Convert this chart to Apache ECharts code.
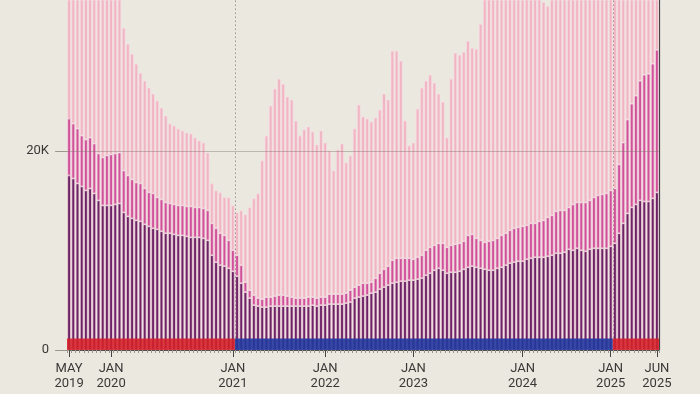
<!DOCTYPE html>
<html><head><meta charset="utf-8">
<script src="https://cdn.jsdelivr.net/npm/echarts@6/dist/echarts.min.js"></script>
<style>html,body{margin:0;padding:0;background:#ebe8e0}#c{width:700px;height:394px}</style>
</head><body><div id="c"></div>
<script>
// bottom segment (dark purple)
const bottomSeries = [17550,17250,16750,16450,16050,16250,15750,15050,14540,14540,
14540,14640,14740,13840,13440,13240,13040,12940,12640,12440,
12240,12140,11940,11740,11740,11630,11530,11530,11430,11330,
11330,11330,11230,11030,9530,8830,8530,8430,8220,7920,
7420,6720,5820,5220,4510,4410,4310,4310,4410,4410,
4410,4410,4410,4410,4410,4410,4410,4410,4510,4410,
4510,4510,4610,4610,4610,4610,4710,4810,5220,5320,
5420,5520,5720,5820,6120,6320,6520,6720,6820,6920,
6920,7020,7020,7120,7220,7520,7720,8020,8220,8020,
7720,7820,7820,7920,8120,8320,8430,8320,8220,8120,
8020,8020,8220,8320,8530,8730,8830,8930,8930,9130,
9230,9330,9330,9330,9430,9530,9730,9730,9830,10130,
10030,10230,10030,9930,10130,10230,10230,10230,10230,10430,
10730,11740,12740,13740,14340,14640,15050,14940,14940,15250,
15850];
// middle segment (magenta)
const middleSeries = [5720,5520,5520,5110,5110,5110,5010,4710,4820,5020,
5120,5120,5120,4210,4110,3910,3810,3810,3610,3410,
3510,3210,3210,3100,3000,3010,3010,3010,3010,3110,
3010,3010,3010,3010,3210,3410,3210,3100,2810,2110,
2110,1810,1000,800,1010,810,810,1010,910,1010,
1110,1110,1010,910,810,810,810,910,810,810,
810,810,1010,1010,1010,1010,1010,1210,1100,1200,
1300,1200,1100,1400,1600,1800,1910,2310,2410,2310,
2310,2210,2110,2210,2310,2510,2610,2510,2510,2710,
2610,2710,2810,2810,2810,3210,3200,2910,2810,2710,
2910,3010,3010,3210,3210,3310,3410,3410,3510,3410,
3510,3410,3610,3710,3910,4010,4210,4310,4210,4210,
4610,4610,4810,4910,4920,5120,5320,5420,5520,5620,
5520,6920,8120,9430,10430,10940,12030,12740,12840,13540,
14340];
// top segment (light pink)
const topSeries = [16730,17230,17730,17440,17840,17640,17740,18240,18640,17940,
17340,17240,16140,14350,13240,12640,11940,11130,10830,10530,
10030,9730,9220,8730,8030,7930,7730,7530,7430,7330,
7020,6720,6620,5820,4010,3810,4110,3820,4320,4510,
4310,5510,6820,8320,9730,10530,13940,16240,19250,20860,
21760,21260,20060,19860,17850,16340,16950,17150,16650,15440,
16750,15540,14440,12430,14540,15140,13140,13540,15950,18150,
16750,16550,16150,16150,16450,17660,16750,21060,20860,19860,
13840,11330,11730,14940,16850,17050,17350,16350,15050,14240,
11030,16750,19260,18960,19060,19560,18760,19060,21770,25170,
26070,26470,26770,26470,26260,25960,25760,25660,25060,24460,
23760,23260,22860,21960,21260,21960,22060,22460,22960,22660,
22360,22160,22160,22160,21950,21650,21450,21350,21750,21450,
21750,19340,17140,15830,14230,14420,12920,12320,12220,11210,
9810];
const tickIndex = [0, 10, 39, 61, 82, 108, 129, 140];
const tickLabels = ['MAY\n2019','JAN\n2020','JAN\n2021','JAN\n2022','JAN\n2023','JAN\n2024','JAN\n2025','JUN\n2025'];
const termBounds = [-0.5, 39.5, 129.5, 140.5];
const termParty = ['R', 'D', 'R'];
const yTicks = [0, 20000];

const N = bottomSeries.length;
const categories = bottomSeries.map((_, i) => String(i));
const partyColor = {R: 'rgba(214,32,40,0.88)', D: 'rgba(34,56,158,0.9)'};
const FONT = 'Roboto, "Liberation Sans", sans-serif';

const chart = echarts.init(document.getElementById('c'), null, {renderer: 'canvas'});
const barBase = {type: 'bar', stack: 'total', xAxisIndex: 0, yAxisIndex: 0,
  barCategoryGap: '16%', emphasis: {disabled: true}};
const areas = termParty.map((p, k) => [
  {xAxis: termBounds[k], yAxis: 0, itemStyle: {color: partyColor[p], opacity: 1}},
  {xAxis: termBounds[k + 1], yAxis: 1150}
]);
chart.setOption({
  animation: false,
  backgroundColor: '#ebe8e0',
  grid: {left: 67, right: 41, top: 0, bottom: 44},
  xAxis: [
    {type: 'category', data: categories, boundaryGap: true,
     axisLine: {show: true, lineStyle: {color: '#444', width: 1}},
     axisTick: {show: true, interval: 0, length: 3, lineStyle: {color: '#9a968e'}},
     axisLabel: {show: false}, splitLine: {show: false}},
    {type: 'category', data: categories, boundaryGap: true, position: 'bottom',
     axisLine: {show: false},
     axisTick: {show: true, alignWithLabel: true, length: 7, interval: (i) => tickIndex.includes(i), lineStyle: {color: '#444', width: 1}},
     axisLabel: {show: true, interval: (i) => tickIndex.includes(i), margin: 11,
       formatter: (v, i) => { const k = tickIndex.indexOf(Number(v)); return k >= 0 ? tickLabels[k] : ''; },
       color: '#3a3836', fontFamily: FONT, fontSize: 13, lineHeight: 15},
     splitLine: {show: false}},
    {type: 'value', min: -0.5, max: N - 0.5, show: false}
  ],
  yAxis: [
    {type: 'value', min: 0, max: 35200, position: 'left',
     axisLine: {show: true, lineStyle: {color: '#444', width: 1.2}},
     axisTick: {show: true, customValues: yTicks, length: 14, lineStyle: {color: '#9c978e'}},
     axisLabel: {customValues: yTicks, margin: 18, color: '#3a3836', fontFamily: FONT, fontSize: 13,
       formatter: (v) => v === 0 ? '0' : (v / 1000) + 'K'},
     splitLine: {show: false}},
    {type: 'value', min: 0, max: 35200, position: 'right',
     axisLine: {show: true, lineStyle: {color: '#444', width: 1.2}},
     axisTick: {show: false}, axisLabel: {show: false}, splitLine: {show: false}}
  ],
  series: [
    Object.assign({}, barBase, {name: 'bottom', data: bottomSeries,
      itemStyle: {color: '#6c2264', borderColor: '#f6d9e2', borderWidth: 0.7}}),
    Object.assign({}, barBase, {name: 'middle', data: middleSeries,
      itemStyle: {color: '#d0519a', borderColor: '#f6d9e2', borderWidth: 0.7}}),
    Object.assign({}, barBase, {name: 'top', data: topSeries,
      itemStyle: {color: '#f1b4c2', borderColor: '#f7dfe5', borderWidth: 0.7}}),
    {type: 'line', xAxisIndex: 2, yAxisIndex: 0, data: [[-0.5, 0]], showSymbol: false, symbolSize: 0,
     lineStyle: {opacity: 0}, z: 10, silent: true,
     markArea: {silent: true, z: 20, itemStyle: {opacity: 1}, data: areas},
     markLine: {silent: true, z: 15, symbol: 'none', label: {show: false},
       data: [
         {yAxis: 20000, lineStyle: {color: 'rgba(120,110,100,0.4)', type: 'solid', width: 1}},
         {xAxis: termBounds[1], lineStyle: {color: 'rgba(120,115,108,0.7)', type: [1.5, 2.5], width: 1}},
         {xAxis: termBounds[2], lineStyle: {color: 'rgba(120,115,108,0.7)', type: [1.5, 2.5], width: 1}}
       ]}}
  ]
});
</script></body></html>
